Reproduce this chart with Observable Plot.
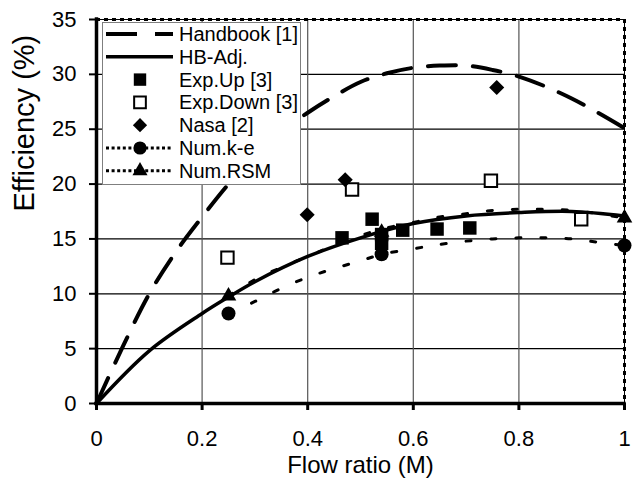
<!DOCTYPE html>
<html><head><meta charset="utf-8">
<script src="https://cdn.jsdelivr.net/npm/d3@7"></script>
<script src="https://cdn.jsdelivr.net/npm/@observablehq/plot@0.6"></script>
<style>
body{margin:0;background:#fff;}
#chart{width:633px;height:485px;}
</style></head><body><div id="chart"></div>
<script>
const xTicks = [0, 0.2, 0.4, 0.6, 0.8, 1];
const yTicks = [0, 5, 10, 15, 20, 25, 30, 35];
const seriesNames = ["Handbook [1]", "HB-Adj.", "Exp.Up [3]", "Exp.Down [3]", "Nasa [2]", "Num.k-e", "Num.RSM"];

const handbookX = [0, 0.05, 0.1, 0.15, 0.2, 0.25, 0.3, 0.35, 0.4, 0.45, 0.5, 0.55, 0.6, 0.65, 0.7, 0.75, 0.8, 0.85, 0.9, 0.95, 1.0];
const handbookY = [0, 5.2, 10, 13.8, 17, 20, 22.7, 24.8, 26.5, 28, 29.3, 30.1, 30.6, 30.8, 30.8, 30.4, 29.8, 28.9, 27.8, 26.5, 25.1];

const hbAdjX = [0, 0.1, 0.2, 0.25, 0.3, 0.4, 0.5, 0.6, 0.7, 0.8, 0.9, 1.0];
const hbAdjY = [0, 4.8, 8.2, 9.7, 11.1, 13.4, 15.1, 16.4, 17.1, 17.4, 17.5, 17.1];

const rsmX = [0.25, 0.3, 0.35, 0.4, 0.45, 0.5, 0.54, 0.6, 0.65, 0.7, 0.75, 0.8, 0.85, 0.9, 0.95, 1.0];
const rsmY = [9.8, 11.3, 12.4, 13.4, 14.4, 15.3, 15.9, 16.5, 17.0, 17.3, 17.6, 17.7, 17.7, 17.6, 17.3, 16.9];

const keX = [0.25, 0.3, 0.35, 0.4, 0.45, 0.5, 0.54, 0.6, 0.65, 0.7, 0.75, 0.8, 0.85, 0.9, 0.95, 1.0];
const keY = [8.2, 9.3, 10.5, 11.5, 12.3, 13.0, 13.6, 14.1, 14.5, 14.8, 15.0, 15.1, 15.1, 15.0, 14.7, 14.4];

const keMarkX = [0.25, 0.54, 1.0];
const keMarkY = [8.2, 13.6, 14.4];
const rsmMarkX = [0.25, 0.54, 1.0];
const rsmMarkY = [9.8, 15.6, 16.9];

const expUpX = [0.465, 0.522, 0.54, 0.54, 0.58, 0.645, 0.707];
const expUpY = [15.1, 16.8, 15.4, 14.6, 15.8, 15.9, 16.0];
const expDownX = [0.248, 0.484, 0.747, 0.918];
const expDownY = [13.3, 19.5, 20.3, 16.8];
const nasaX = [0.399, 0.471, 0.758];
const nasaY = [17.2, 20.4, 28.8];

const rows = (xs, ys) => xs.map((x, i) => ({x, y: ys[i]}));
const FONT = "'Liberation Sans', Arial, Helvetica, sans-serif";

const chart = Plot.plot({
  width: 633, height: 485,
  marginLeft: 96, marginRight: 9, marginTop: 19, marginBottom: 82,
  x: {domain: [0, 1]},
  y: {domain: [0, 35]},
  style: {fontFamily: FONT, fontSize: "22px", color: "black", background: "white", overflow: "visible"},
  marks: [
    Plot.ruleY(yTicks.filter(v => v > 0 && v < 35), {stroke: "#000", strokeWidth: 1.2}),
    Plot.ruleX(xTicks.filter(v => v > 0 && v < 1), {stroke: "#555", strokeWidth: 1.2}),
    Plot.ruleY([35], {stroke: "#000", strokeWidth: 1}),
    Plot.ruleY([35], {stroke: "#000", strokeWidth: 3, strokeDasharray: "4,4"}),
    Plot.ruleX([1], {stroke: "#000", strokeWidth: 1}),
    Plot.ruleX([1], {stroke: "#000", strokeWidth: 3, strokeDasharray: "4,4"}),
    Plot.line(rows(handbookX, handbookY), {x: "x", y: "y", stroke: "black", strokeWidth: 4, strokeDasharray: "28,17", curve: "catmull-rom"}),
    Plot.line(rows(hbAdjX, hbAdjY), {x: "x", y: "y", stroke: "black", strokeWidth: 3.5, curve: "catmull-rom"}),
    Plot.line(rows(rsmX, rsmY), {x: "x", y: "y", stroke: "black", strokeWidth: 3, strokeDasharray: "5,20", curve: "catmull-rom"}),
    Plot.line(rows(keX, keY), {x: "x", y: "y", stroke: "black", strokeWidth: 3, strokeDasharray: "5,20", curve: "catmull-rom"}),
    Plot.dot(rows(expUpX, expUpY), {x: "x", y: "y", symbol: "square", r: 7.6, fill: "black", stroke: "none"}),
    Plot.dot(rows(expDownX, expDownY), {x: "x", y: "y", symbol: "square", r: 7.0, fill: "white", stroke: "black", strokeWidth: 2}),
    Plot.dot(rows(nasaX, nasaY), {x: "x", y: "y", symbol: "diamond2", r: 6.8, fill: "black", stroke: "none"}),
    Plot.dot(rows(keMarkX, keMarkY), {x: "x", y: "y", symbol: "circle", r: 7, fill: "black", stroke: "none"}),
    Plot.dot(rows(rsmMarkX, rsmMarkY), {x: "x", y: "y", symbol: "triangle", r: 5.8, fill: "black", stroke: "none"}),
    Plot.ruleX([0], {stroke: "black", strokeWidth: 3.5, strokeLinecap: "square"}),
    Plot.ruleY([0], {stroke: "black", strokeWidth: 3.5, strokeLinecap: "square"}),
    Plot.axisX({ticks: xTicks, tickFormat: d => String(d), tickSize: 7, tickPadding: 20, strokeWidth: 3, label: null, fontSize: 22}),
    Plot.axisY({ticks: yTicks, tickFormat: d => String(d), tickSize: 7, tickPadding: 13, strokeWidth: 2, label: null, fontSize: 22}),
    Plot.text(["Flow ratio (M)"], {frameAnchor: "bottom", dy: 69, fontSize: 24}),
    Plot.text(["Efficiency (%)"], {frameAnchor: "left", dx: -72, rotate: -90, fontSize: 29})
  ]
});

document.getElementById("chart").appendChild(chart);

// legend
const svg = d3.select(chart);
const lg = svg.append("g").attr("font-family", FONT).attr("font-size", 20).attr("text-anchor", "start");
lg.append("rect").attr("x", 102.5).attr("y", 22.5).attr("width", 198).attr("height", 162)
  .attr("fill", "white").attr("stroke", "#7f7f7f").attr("stroke-width", 1);
const types = ["dash", "solid", "fsq", "osq", "dia", "dotcirc", "dottri"];
seriesNames.forEach((name, i) => {
  const cy = 34 + i * 22.8;
  const t = types[i];
  if (t === "dash") lg.append("line").attr("x1", 106).attr("x2", 173).attr("y1", cy).attr("y2", cy)
    .attr("stroke", "black").attr("stroke-width", 4).attr("stroke-dasharray", "31,18");
  if (t === "solid") lg.append("line").attr("x1", 106).attr("x2", 173).attr("y1", cy).attr("y2", cy)
    .attr("stroke", "black").attr("stroke-width", 3.5);
  if (t === "dotcirc" || t === "dottri") lg.append("line").attr("x1", 106).attr("x2", 173).attr("y1", cy).attr("y2", cy)
    .attr("stroke", "black").attr("stroke-width", 3).attr("stroke-dasharray", "3,2.6");
  const sym = {fsq: d3.symbolSquare, osq: d3.symbolSquare, dia: d3.symbolDiamond2, dotcirc: d3.symbolCircle, dottri: d3.symbolTriangle}[t];
  const rr = {fsq: 7, osq: 6.6, dia: 6.4, dotcirc: 6.6, dottri: 5.6}[t];
  if (sym) {
    lg.append("path").attr("d", d3.symbol(sym, Math.PI * rr * rr)())
      .attr("transform", `translate(140,${cy})`)
      .attr("fill", t === "osq" ? "white" : "black")
      .attr("stroke", t === "osq" ? "black" : "none").attr("stroke-width", 2);
  }
  lg.append("text").attr("x", 179).attr("y", cy + 7).attr("text-anchor", "start").attr("fill", "black").text(name);
});
</script></body></html>
